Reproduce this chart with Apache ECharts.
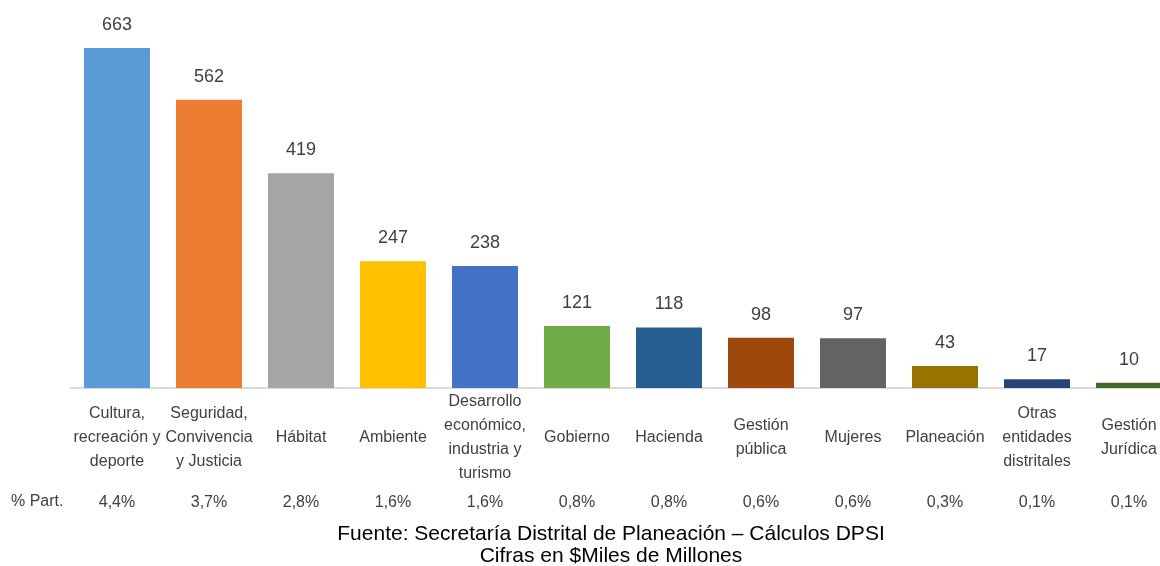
<!DOCTYPE html>
<html><head><meta charset="utf-8">
<script src="https://cdn.jsdelivr.net/npm/echarts@6/dist/echarts.min.js"></script>
<style>html,body{margin:0;padding:0;background:#fff;overflow:hidden}#c{width:1175px;height:566px}</style>
</head><body><div id="c"></div>
<script>
const categories = ["Cultura,\nrecreación y\ndeporte","Seguridad,\nConvivencia\ny Justicia","Hábitat","Ambiente","Desarrollo\neconómico,\nindustria y\nturismo","Gobierno","Hacienda","Gestión\npública","Mujeres","Planeación","Otras\nentidades\ndistritales","Gestión\nJurídica"];
const values = [663,562,419,247,238,121,118,98,97,43,17,10];
const percents = ["4,4%","3,7%","2,8%","1,6%","1,6%","0,8%","0,8%","0,6%","0,6%","0,3%","0,1%","0,1%"];
const colors = ["#5B9BD5","#ED7D31","#A5A5A5","#FFC000","#4472C4","#70AD47","#255E91","#9E480E","#636363","#997300","#264478","#43682B"];
const NARROW = '"Liberation Sans Narrow","Arial Narrow","Liberation Sans",Arial,sans-serif';
const chart = echarts.init(document.getElementById('c'));
chart.setOption({
  animation:false,
  grid:{left:71, top:48, right:0, height:340, containLabel:false},
  xAxis:[{
    type:'category', data:categories,
    axisLine:{lineStyle:{color:'#D9D9D9', width:2}},
    axisTick:{show:false},
    axisLabel:{interval:0, margin:50, verticalAlign:'middle', color:'#404040', fontSize:16, lineHeight:24, fontFamily:NARROW}
  },{
    type:'category', data:percents, position:'bottom',
    axisLine:{show:false}, axisTick:{show:false},
    axisLabel:{interval:0, margin:115, verticalAlign:'middle', color:'#404040', fontSize:16, fontFamily:NARROW}
  }],
  yAxis:{type:'value', min:0, max:663, show:false, splitLine:{show:false}},
  series:[{
    type:'bar', data:values.map((v,i)=>({value:v, itemStyle:{color:colors[i]}})),
    barWidth:66,
    label:{show:true, position:'top', distance:14, color:'#404040', fontSize:18, fontFamily:NARROW}
  }],
  graphic:[{type:'text', left:11, top:494, style:{text:'% Part.', fill:'#404040', font:'16px '+NARROW}}],
  title:[{
    text:'Fuente: Secretaría Distrital de Planeación – Cálculos DPSI\nCifras en $Miles de Millones',
    left:606, top:518, textAlign:'center',
    textStyle:{color:'#000', fontSize:21, fontWeight:'normal', fontFamily:'"Liberation Sans",Arial,sans-serif', lineHeight:22}
  }]
});
</script></body></html>
